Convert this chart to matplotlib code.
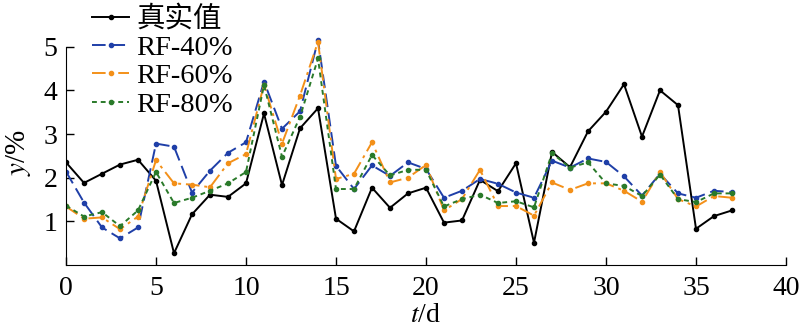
import numpy as np
import matplotlib.pyplot as plt

plt.rcParams['font.family'] = ['Liberation Serif', 'Noto Sans CJK SC']
plt.rcParams['mathtext.fontset'] = 'stix'

t = np.arange(38)
actual = [2.35, 1.88, 2.09, 2.30, 2.41, 1.93, 0.27, 1.16, 1.61, 1.56,
          1.87, 3.47, 1.83, 3.13, 3.59, 1.06, 0.77, 1.77, 1.31, 1.64,
          1.77, 0.97, 1.02, 1.95, 1.69, 2.33, 0.51, 2.59, 2.24, 3.06,
          3.51, 4.14, 2.94, 4.00, 3.66, 0.83, 1.12, 1.25]
rf40 = [2.14, 1.43, 0.86, 0.61, 0.86, 2.78, 2.71, 1.66, 2.16, 2.57,
        2.81, 4.20, 3.12, 3.52, 5.15, 2.27, 1.74, 2.28, 2.04, 2.35,
        2.20, 1.54, 1.70, 1.97, 1.86, 1.66, 1.54, 2.39, 2.23, 2.44,
        2.36, 2.03, 1.59, 2.09, 1.64, 1.54, 1.70, 1.67]
rf60 = [1.34, 1.06, 1.09, 0.82, 1.11, 2.40, 1.87, 1.84, 1.78, 2.33,
        2.54, 4.13, 2.78, 3.88, 5.11, 1.97, 2.09, 2.81, 1.89, 2.00,
        2.29, 1.25, 1.51, 2.18, 1.35, 1.35, 1.13, 1.89, 1.72, 1.87,
        1.87, 1.70, 1.45, 2.13, 1.51, 1.34, 1.58, 1.54]
rf80 = [1.36, 1.11, 1.21, 0.89, 1.25, 2.13, 1.42, 1.54, 1.70, 1.87,
        2.13, 4.12, 2.48, 3.39, 4.73, 1.74, 1.74, 2.52, 2.05, 2.18,
        2.18, 1.34, 1.51, 1.61, 1.42, 1.46, 1.32, 2.56, 2.23, 2.35,
        1.87, 1.81, 1.58, 2.07, 1.51, 1.44, 1.64, 1.64]

fig = plt.figure(figsize=(8, 3.31), dpi=100)
ax = fig.add_axes([66/800, 66/331, 720/800, 262/331])

ax.plot(t, actual, color='black', lw=1.4, marker='o', ms=3, label='真实值')
ax.plot(t, rf40, color='#1f3fa8', lw=1.4, marker='o', ms=3, dashes=(7, 3), label='RF-40%')
ax.plot(t, rf60, color='#f39019', lw=1.4, marker='o', ms=3, dashes=(7, 2.5, 1.5, 2.5), label='RF-60%')
ax.plot(t, rf80, color='#2a7a2a', lw=1.4, marker='o', ms=3, dashes=(2.5, 2), label='RF-80%')

ax.set_xlim(0, 40)
ax.set_ylim(0, 6)
ax.set_xticks(np.arange(0, 41, 5))
ax.set_yticks([1, 2, 3, 4, 5])
ax.spines['top'].set_visible(False)
ax.spines['right'].set_visible(False)
ax.spines['left'].set_bounds(0, 5)
ax.spines['bottom'].set_bounds(0, 40)
ax.tick_params(direction='in', labelsize=20, length=6, width=1)
ax.tick_params(axis='x', pad=8)
ax.tick_params(axis='y', pad=6)

ax.set_xlabel(r'$\mathit{t}$/d', fontsize=20, labelpad=1)
ax.set_ylabel(r'$\mathit{y}$/%', fontsize=21)
ax.yaxis.set_label_coords(-0.046, 0.43)

ax.legend(loc='upper left', bbox_to_anchor=(0.017, 1.043), frameon=False, fontsize=20.5,
          handlelength=1.3, handletextpad=0.25, labelspacing=0.08, borderpad=0)

fig.savefig('out.png', dpi=100)
